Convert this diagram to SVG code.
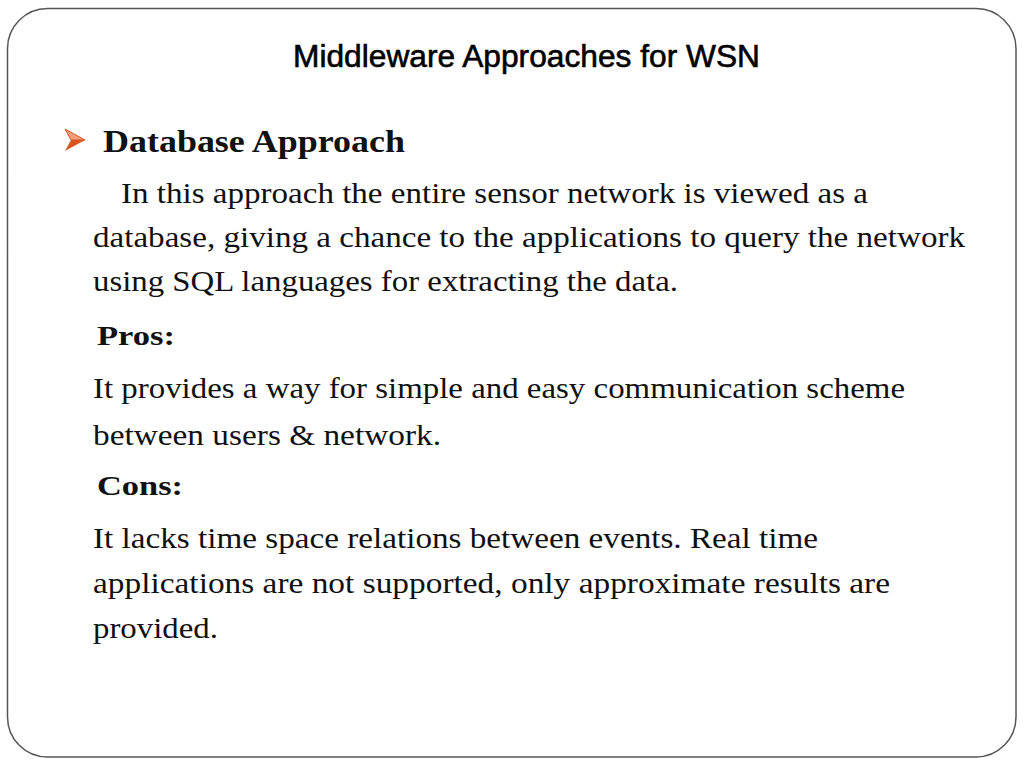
<svg xmlns="http://www.w3.org/2000/svg" width="1024" height="768" viewBox="0 0 1024 768">
<style>
.body{font-family:"Liberation Serif","Times New Roman",serif;font-size:29.5px;fill:#111}
.bold{font-family:"Liberation Serif","Times New Roman",serif;font-weight:bold;fill:#111}
.title{font-family:"Liberation Sans",Arial,sans-serif;font-size:31px;fill:#000;stroke:#000;stroke-width:0.6}
</style>
<rect x="0" y="0" width="1024" height="768" fill="#fff"/>
<rect id="frame" x="7.5" y="8.5" width="1008.5" height="748.5" rx="40" ry="40" fill="#fff" stroke="#555" stroke-width="1.5"/>
<g id="title">
<text class="title" x="293" y="67" textLength="467" lengthAdjust="spacingAndGlyphs">Middleware Approaches for WSN</text>
</g>
<g id="bullet">
<polygon points="65,129 85,140 71,140" fill="#f3a07a" stroke="#d9531e" stroke-width="1"/>
<polygon points="71,140 85,140 65,151" fill="#d9531e"/>
</g>
<g id="content">
<text class="bold" x="103" y="152" font-size="31" textLength="302" lengthAdjust="spacingAndGlyphs">Database Approach</text>
<text class="body" x="121" y="203" textLength="747" lengthAdjust="spacingAndGlyphs">In this approach the entire sensor network is viewed as a</text>
<text class="body" x="93" y="247" textLength="872" lengthAdjust="spacingAndGlyphs">database, giving a chance to the applications to query the network</text>
<text class="body" x="93" y="291" textLength="585" lengthAdjust="spacingAndGlyphs">using SQL languages for extracting the data.</text>
<text class="bold" x="97" y="345" font-size="28" textLength="78" lengthAdjust="spacingAndGlyphs">Pros:</text>
<text class="body" x="93" y="398" textLength="812" lengthAdjust="spacingAndGlyphs">It provides a way for simple and easy communication scheme</text>
<text class="body" x="93" y="445" textLength="348" lengthAdjust="spacingAndGlyphs">between users &amp; network.</text>
<text class="bold" x="97" y="495" font-size="28" textLength="86" lengthAdjust="spacingAndGlyphs">Cons:</text>
<text class="body" x="93" y="548" textLength="725" lengthAdjust="spacingAndGlyphs">It lacks time space relations between events. Real time</text>
<text class="body" x="93" y="593" textLength="797" lengthAdjust="spacingAndGlyphs">applications are not supported, only approximate results are</text>
<text class="body" x="93" y="638" textLength="125" lengthAdjust="spacingAndGlyphs">provided.</text>
</g>
</svg>
